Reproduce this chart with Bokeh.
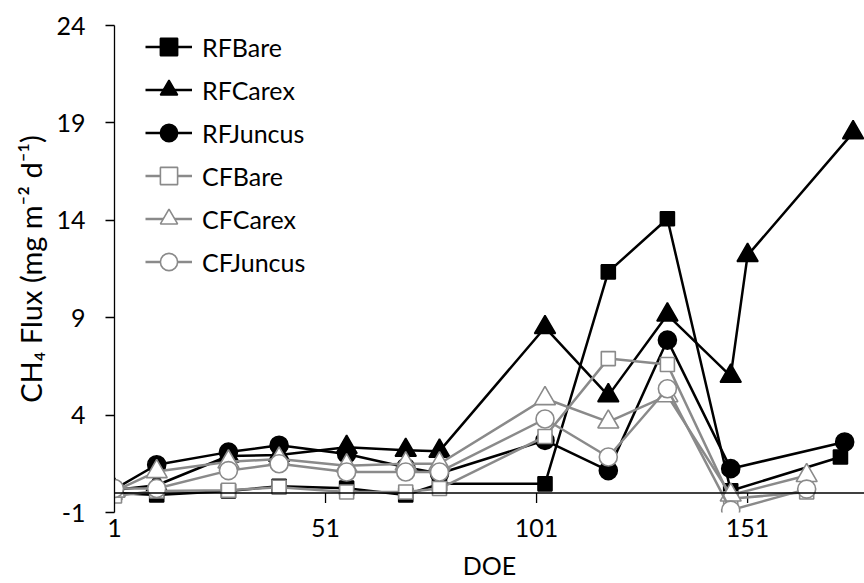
from bokeh.plotting import figure
from bokeh.models import Range1d, FixedTicker, Span
from bokeh.embed import file_html
from bokeh.resources import INLINE

# Sampling days (day of experiment) shared by most series
doe = [1, 11, 28, 40, 56, 70, 78, 103, 118, 132, 147]

# CH4 flux, mg m-2 d-1
rf_bare_doe = doe + [173]
rf_bare = [0.0, -0.1, 0.1, 0.35, 0.25, -0.1, 0.47, 0.47, 11.35, 14.08, 0.12, 1.85]

rf_carex_doe = doe + [151, 176]
rf_carex = [0.15, 0.4, 1.9, 1.95, 2.35, 2.2, 2.15, 8.5, 5.0, 9.15, 6.0, 12.2, 18.5]

rf_juncus_doe = doe + [174]
rf_juncus = [0.2, 1.45, 2.1, 2.45, 2.0, 1.32, 1.0, 2.7, 1.15, 7.85, 1.25, 2.62]

cf_doe = doe + [165]
cf_bare = [-0.15, 0.1, 0.14, 0.3, 0.05, 0.05, 0.23, 2.9, 6.9, 6.6, -0.3, 0.05]
cf_carex = [0.1, 1.1, 1.6, 1.75, 1.4, 1.5, 1.5, 4.85, 3.65, 5.0, -0.1, 0.9]
cf_juncus = [0.23, 0.23, 1.15, 1.5, 1.08, 1.08, 1.08, 3.8, 1.85, 5.35, -0.88, 0.2]

x_ticks = [1, 51, 101, 151]
y_ticks = [-1, 4, 9, 14, 19, 24]

FONT = "Lato"
FS = "25px"
BLACK = "#000000"
GREY = "#8a8a8a"

Y_MIN, Y_MAX = -1, 24
TOP, BOTTOM, HEIGHT = 25, 71, 583

p = figure(width=864, height=HEIGHT, output_backend="svg", toolbar_location=None,
           x_range=Range1d(1, 178.7), y_range=Range1d(Y_MIN, Y_MAX),
           min_border_left=114, min_border_right=0, min_border_top=TOP,
           min_border_bottom=BOTTOM)
p.outline_line_color = None
p.xgrid.visible = False
p.ygrid.visible = False
p.background_fill_color = "white"
p.border_fill_color = "white"

# Horizontal axis line where the flux is zero, with outward tick marks
p.add_layout(Span(location=0, dimension="width", line_color=BLACK, line_width=1.3))
px_per_unit = (HEIGHT - TOP - BOTTOM) / (Y_MAX - Y_MIN)
tick_len = 10 / px_per_unit
p.segment(x0=x_ticks, y0=[0] * len(x_ticks), x1=x_ticks, y1=[-tick_len] * len(x_ticks),
          line_color=BLACK, line_width=1.3)

series = [
    ("RFBare", rf_bare_doe, rf_bare, BLACK, "square", BLACK, 14),
    ("RFCarex", rf_carex_doe, rf_carex, BLACK, "triangle", BLACK, 21),
    ("RFJuncus", rf_juncus_doe, rf_juncus, BLACK, "circle", BLACK, 18),
    ("CFBare", cf_doe, cf_bare, GREY, "square", "white", 14),
    ("CFCarex", cf_doe, cf_carex, GREY, "triangle", "white", 21),
    ("CFJuncus", cf_doe, cf_juncus, GREY, "circle", "white", 18),
]
for name, xs, ys, col, marker, fill, size in series:
    p.line(xs, ys, line_color=col, line_width=2.5, legend_label=name)
    p.scatter(xs, ys, marker=marker, size=size, fill_color=fill,
              line_color=col, line_width=1.6, legend_label=name)

# Bottom axis: tick labels and title
xa = p.xaxis[0]
xa.ticker = FixedTicker(ticks=x_ticks)
xa.axis_line_color = None
xa.major_tick_line_color = None
xa.major_tick_in = 0
xa.major_tick_out = 0
xa.minor_tick_line_color = None
xa.major_label_standoff = 6
xa.major_label_text_font = FONT
xa.major_label_text_font_size = FS
xa.major_label_text_color = BLACK
xa.axis_label = "DOE"
xa.axis_label_standoff = 10
xa.axis_label_text_font = FONT
xa.axis_label_text_font_size = FS
xa.axis_label_text_font_style = "normal"
xa.axis_label_text_color = BLACK

ya = p.yaxis[0]
ya.ticker = FixedTicker(ticks=y_ticks)
ya.major_label_overrides = {-1: "-1"}
ya.axis_line_color = BLACK
ya.axis_line_width = 1.3
ya.major_tick_line_color = BLACK
ya.major_tick_line_width = 1.3
ya.major_tick_in = 0
ya.major_tick_out = 9
ya.minor_tick_line_color = None
ya.major_label_standoff = 20
ya.major_label_text_font = FONT
ya.major_label_text_font_size = FS
ya.major_label_text_color = BLACK
ya.axis_label = "CH\u2084 Flux (mg m\u207b\u00b2 d\u207b\u00b9)"
ya.axis_label_text_font = FONT
ya.axis_label_text_font_size = "29px"
ya.axis_label_text_font_style = "normal"
ya.axis_label_text_color = BLACK
ya.axis_label_standoff = 5

lg = p.legend[0]
lg.location = (31, 229)
lg.glyph_width = 47
lg.glyph_height = 43
lg.label_height = 43
lg.spacing = 0
lg.padding = 0
lg.margin = 0
lg.label_standoff = 10
lg.border_line_color = None
lg.background_fill_alpha = 0
lg.label_text_font = FONT
lg.label_text_font_size = FS
lg.label_text_color = BLACK

open("out.html", "w").write(file_html(p, INLINE))
